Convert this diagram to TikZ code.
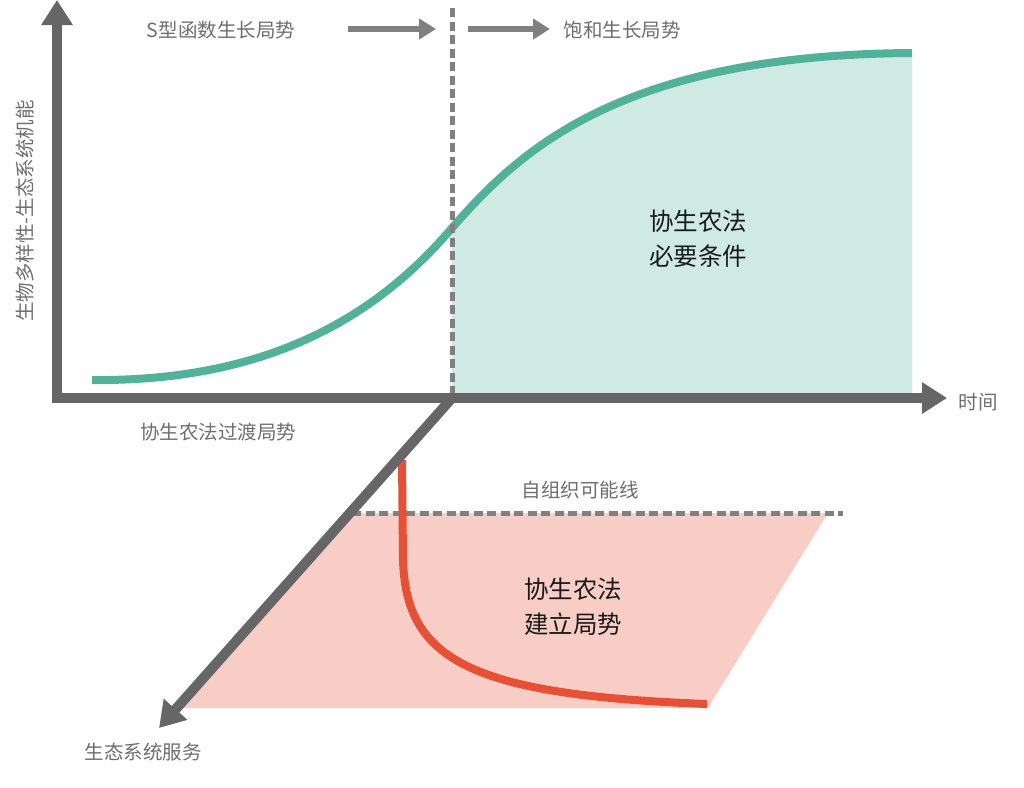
\documentclass[tikz,border=0pt]{standalone}
\usepackage{fontspec}
\setmainfont{Noto Sans CJK SC}
\usetikzlibrary{arrows.meta}
\definecolor{axisgray}{HTML}{666666}
\definecolor{dashgray}{HTML}{808080}
\definecolor{labelgray}{HTML}{6E6E6E}
\definecolor{greenline}{HTML}{52B199}
\definecolor{greenfill}{HTML}{CFEAE2}
\definecolor{redline}{HTML}{E65036}
\definecolor{redfill}{HTML}{F8CDC6}
\definecolor{darktext}{HTML}{1A1A1A}
\begin{document}
\begin{tikzpicture}[x=1pt,y=-1pt,
  axisline/.style={draw=axisgray,line width=10pt,-{Triangle[length=25pt,width=30pt]}},
  guideline/.style={draw=dashgray,line width=5pt,dash pattern=on 9pt off 4.5pt},
  toparrow/.style={draw=dashgray,line width=6pt,-{Triangle[length=17pt,width=20pt]}},
  smalllabel/.style={text=labelgray,font=\fontsize{19.5}{23}\selectfont,inner sep=0pt},
  biglabel/.style={text=darktext,font=\fontsize{24.5}{35}\selectfont,align=center,inner sep=0pt},
  curve/.style={line width=8pt}]
\useasboundingbox (0,0) rectangle (1024,787);
% key coordinates
\coordinate (O) at (452,398);
\coordinate (Ybot) at (57,403);
\coordinate (Ytop) at (57,0);
\coordinate (Xleft) at (52,398);
\coordinate (Xright) at (947,398);
\coordinate (Dtip) at (159,728);
\coordinate (Vtop) at (452,8);
\coordinate (Vbot) at (452,393);
\coordinate (Hleft) at (352,513);
\coordinate (Hright) at (843,513);
% fills
\fill[greenfill] (452,398) -- (452,228) .. controls (520,150) and (620,55) .. (912,53) -- (912,398) -- cycle;
\fill[redfill] (350,513) -- (828,513) -- (708,708) -- (177,708) -- cycle;
% curves
\draw[greenline,curve] (92,380) .. controls (290,382) and (392,298) .. (452,228)
  .. controls (520,150) and (620,55) .. (912,53);
% guides
\draw[guideline] (Vtop) -- (Vbot);
\draw[guideline] (Hleft) -- (Hright);
\draw[redline,curve] (402,460) -- (403,560) .. controls (406,660) and (470,695) .. (707,704);
% axes
\draw[axisline] (Ybot) -- (Ytop);
\draw[axisline] (Xleft) -- (Xright);
\draw[axisline] (O) -- (Dtip);
% top labels and arrows
\node[smalllabel] (sgrow) at (221,30) {S型函数生长局势};
\node[smalllabel] (sat) at (622,30) {饱和生长局势};
\coordinate (a1s) at (348,29);
\coordinate (a1e) at (436,29);
\coordinate (a2s) at (468,29);
\coordinate (a2e) at (550,29);
\draw[toparrow] (a1s) -- (a1e);
\draw[toparrow] (a2s) -- (a2e);
% axis labels
\node[smalllabel,rotate=90] (ylab) at (25,211) {生物多样性-生态系统机能};
\node[smalllabel] (time) at (978,402) {时间};
\node[smalllabel] (trans) at (218,432) {协生农法过渡局势};
\node[smalllabel] (serv) at (143,752) {生态系统服务};
\node[smalllabel] (selforg) at (580,490) {自组织可能线};
% region labels
\node[biglabel] (cond) at (698,239) {协生农法\\必要条件};
\node[biglabel] (estab) at (573,607) {协生农法\\建立局势};
\end{tikzpicture}
\end{document}
